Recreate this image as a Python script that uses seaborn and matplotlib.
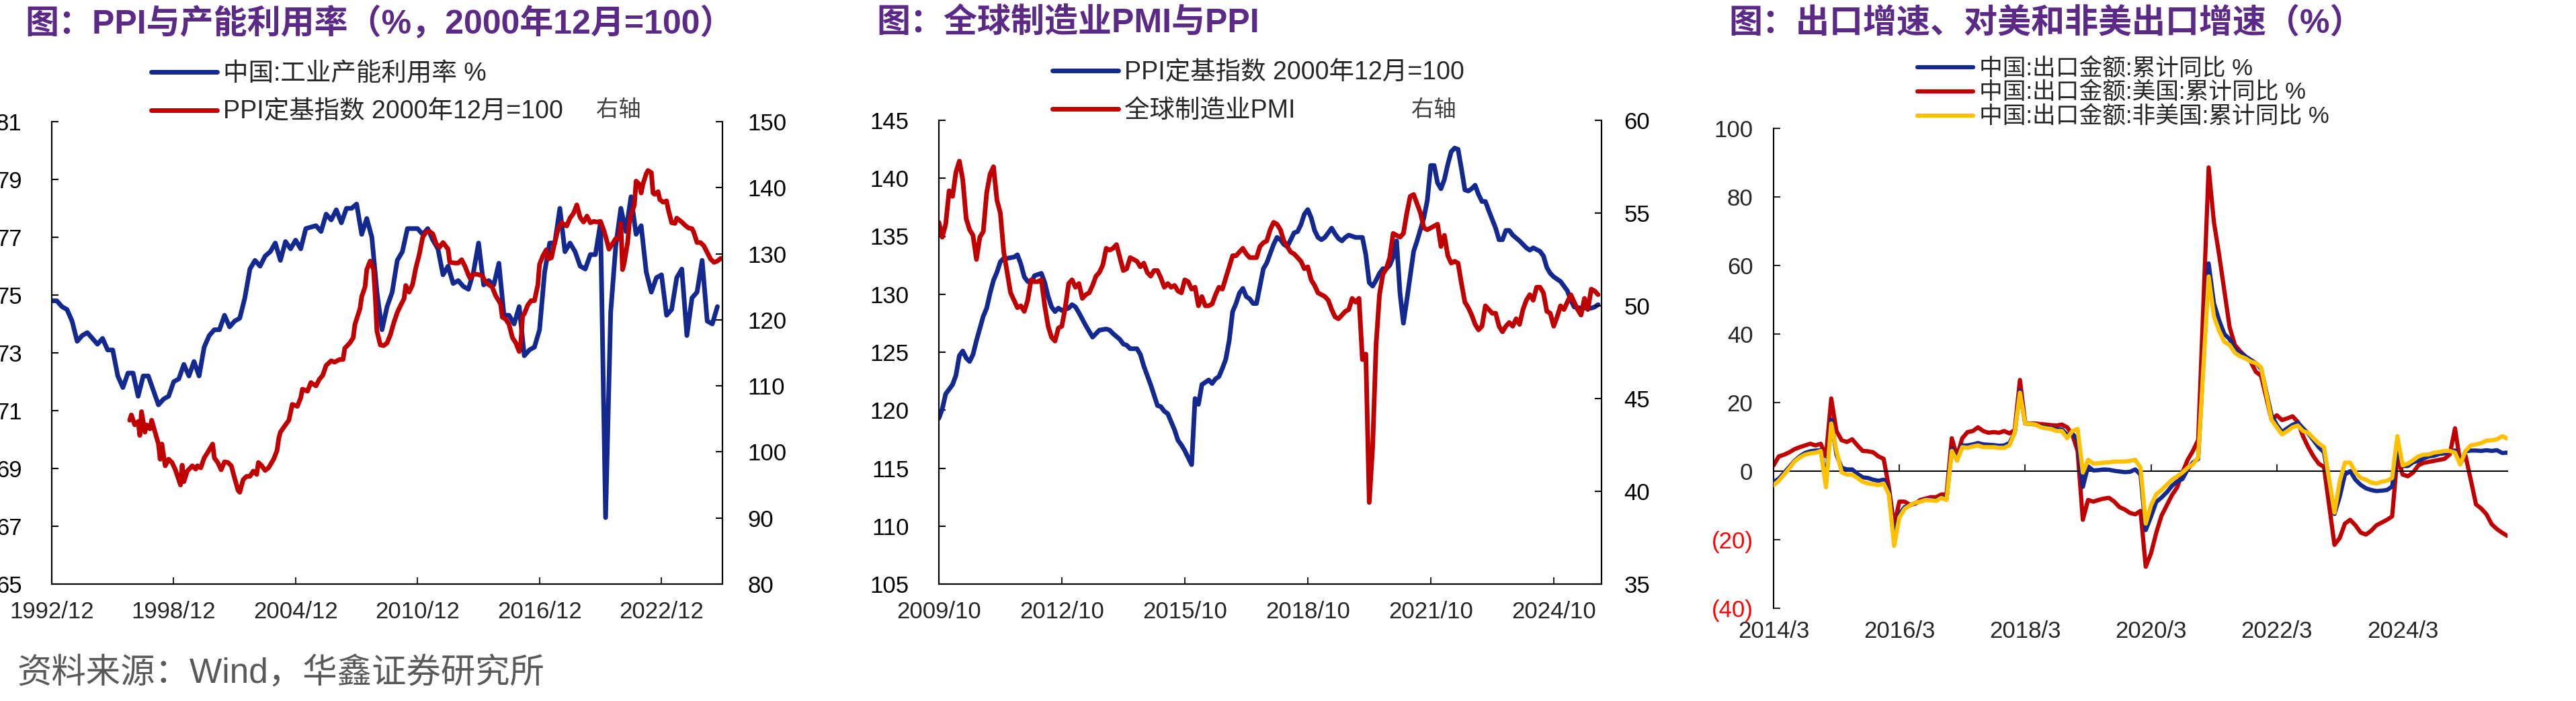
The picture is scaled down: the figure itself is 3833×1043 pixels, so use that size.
import matplotlib
matplotlib.use('Agg')
import matplotlib.pyplot as plt
import seaborn as sns

W, H = 3833, 1043
BLUE = '#13298f'
RED = '#c00000'
YELLOW = '#ffc000'
PURPLE = '#5b2a86'

# ---------- panel 1: capacity utilisation (quarterly, from 1992/12) & PPI index (monthly offsets from 1992/12)
cap_util = [74.8, 74.8, 74.6, 74.5, 74.1, 73.4, 73.6, 73.7, 73.5, 73.3,
            73.5, 73.1, 73.1, 72.2, 71.8, 72.3, 72.3, 71.5, 72.2, 72.2,
            71.7, 71.2, 71.4, 71.5, 72.0, 72.1, 72.6, 72.2, 72.7, 72.2,
            73.2, 73.6, 73.8, 73.8, 74.3, 73.9, 74.1, 74.2, 74.9, 75.9,
            76.2, 76.0, 76.35, 76.5, 76.8, 76.2, 76.85, 76.6, 76.9, 76.6,
            77.3, 77.35, 77.4, 77.2, 77.8, 77.6, 77.95, 77.5, 78.0, 78.0,
            78.15, 77.1, 77.65, 77.0, 75.1, 73.8, 74.6, 75.1, 76.2, 76.5,
            77.3, 77.3, 77.3, 77.1, 77.3, 76.9, 76.6, 75.7, 76.0, 75.4,
            75.5, 75.3, 75.2, 75.8, 76.8, 75.35, 75.5, 75.35, 76.1, 74.3,
            74.3, 74.0, 74.6, 72.9, 73.1, 73.2, 73.8, 75.8, 76.8, 76.8,
            78.0, 76.5, 76.8, 76.5, 76.0, 75.9, 76.4, 76.4, 77.5, 67.3,
            74.4, 76.7, 78.0, 77.2, 78.4, 77.1, 77.4, 75.8, 75.1, 75.6,
            75.7, 74.3, 74.5, 75.6, 75.9, 73.6, 74.9, 75.1, 76.2, 74.1,
            74.0, 74.6]
cap_month = [3 * q for q in range(len(cap_util))]

ppi1_month = [46, 47, 49, 51, 52, 53, 55, 56, 58, 59, 61, 63, 64, 65, 67, 69, 71, 73, 75, 76,
              77, 78, 80, 83, 85, 86, 88, 90, 92, 95, 96, 98, 100, 102, 104, 106, 108, 110, 111, 113,
              115, 117, 119, 121, 122, 124, 126, 128, 131, 133, 134, 135, 138, 140, 142, 145, 147, 148, 151, 153,
              156, 158, 160, 162, 165, 167, 170, 172, 173, 176, 178, 179, 181, 182, 183, 185, 186, 188, 190, 191,
              192, 194, 196, 198, 200, 202, 204, 206, 208, 209, 211, 213, 215, 217, 219, 221, 223, 225, 227, 229,
              231, 234, 235, 238, 240, 242, 244, 246, 247, 249, 251, 254, 256, 258, 260, 262, 265, 266, 268, 270,
              272, 274, 276, 277, 278, 279, 281, 283, 285, 287, 288, 290, 292, 293, 295, 297, 299, 301, 304, 306,
              308, 310, 312, 314, 316, 318, 320, 322, 324, 326, 328, 329, 331, 333, 335, 336, 337, 338, 340, 341,
              342, 344, 345, 347, 348, 349, 351, 352, 354, 355, 356, 358, 359, 361, 363, 364, 366, 368, 369, 372,
              374, 376, 378, 379, 381, 383, 385, 387, 389, 391, 393, 395]
ppi1_value = [104.8, 105.6, 104.1, 104.6, 102.5, 106.1, 103.0, 104.1, 103.5, 104.8,
              103.0, 101.2, 98.9, 101.2, 97.9, 98.9, 98.4, 97.3, 95.8, 95.0,
              98.0, 95.5, 97.1, 97.9, 97.4, 97.9, 97.6, 99.1, 99.9, 101.2,
              99.1, 98.4, 97.3, 98.5, 98.4, 97.9, 96.0, 94.2, 93.9, 95.8,
              96.3, 96.3, 97.1, 96.6, 98.4, 97.9, 97.2, 97.6, 98.9, 100.2,
              102.0, 103.0, 104.1, 104.8, 107.2, 106.9, 108.2, 109.5, 109.2, 110.5,
              110.0, 111.0, 111.6, 113.1, 113.8, 113.6, 114.0, 114.0, 115.7, 116.5,
              117.3, 119.3, 120.9, 121.7, 123.5, 125.0, 127.6, 128.9, 127.6, 123.5,
              118.3, 116.2, 116.1, 116.5, 117.8, 119.6, 121.1, 122.2, 123.2, 125.2,
              124.2, 125.3, 127.9, 129.9, 132.5, 133.3, 133.4, 133.0, 131.5, 131.0,
              131.7, 130.7, 128.7, 128.6, 128.6, 129.1, 128.1, 126.8, 126.3, 126.9,
              126.9, 126.7, 125.8, 125.3, 125.0, 123.7, 122.4, 120.4, 120.1, 119.3,
              117.3, 116.5, 115.2, 116.7, 120.6, 120.9, 122.2, 122.9, 122.9, 125.3,
              128.4, 129.7, 130.6, 129.2, 129.4, 131.7, 133.8, 134.7, 134.2, 135.4,
              136.1, 137.4, 135.5, 134.8, 135.7, 134.7, 134.9, 134.8, 134.9, 133.5,
              131.7, 130.7, 131.5, 132.3, 132.3, 134.6, 127.6, 128.6, 131.7, 134.6,
              135.9, 137.4, 141.0, 140.5, 139.2, 140.5, 142.1, 142.6, 142.3, 139.2,
              139.0, 139.4, 138.2, 137.8, 138.0, 136.7, 134.7, 134.6, 135.4, 134.8,
              134.3, 133.9, 133.8, 133.3, 131.7, 131.7, 131.2, 130.2, 129.2, 128.7,
              128.9, 129.3]
p1_ticks = [0, 72, 144, 216, 288, 360]
p1_labels = ['1992/12', '1998/12', '2004/12', '2010/12', '2016/12', '2022/12']

# ---------- panel 2: PPI index & global manufacturing PMI (monthly offsets from 2009/10)
ppi2_month = [0, 1, 2, 4, 5, 6, 7, 8, 9, 10, 11, 13, 14, 15, 16, 17, 18, 19, 20, 22,
              23, 24, 25, 26, 27, 28, 30, 31, 32, 33, 34, 35, 36, 38, 39, 40, 41, 43, 44, 45,
              46, 47, 49, 50, 51, 53, 54, 55, 56, 58, 59, 60, 61, 62, 63, 64, 65, 66, 67, 68,
              69, 70, 71, 72, 73, 74, 75, 76, 77, 79, 80, 81, 82, 83, 84, 85, 86, 87, 88, 89,
              90, 91, 92, 93, 94, 95, 96, 97, 98, 99, 100, 101, 102, 103, 104, 105, 106, 107, 108, 109,
              110, 111, 112, 113, 114, 115, 116, 117, 118, 119, 120, 121, 122, 124, 125, 126, 127, 128, 129, 130,
              131, 132, 133, 134, 135, 136, 137, 138, 139, 140, 141, 142, 143, 144, 145, 146, 147, 148, 149, 150,
              151, 152, 153, 154, 155, 156, 157, 158, 159, 160, 161, 163, 164, 165, 166, 167, 168, 170, 171, 172,
              173, 174, 176, 177, 178, 179, 180, 181, 182, 183, 184, 185, 186, 188, 189, 190, 191, 192, 193]
ppi2_value = [119.3, 120.1, 121.4, 122.2, 123.0, 124.7, 125.1, 124.5, 124.2, 124.8,
              126.0, 128.1, 128.8, 130.1, 131.2, 131.9, 132.8, 133.1, 133.1, 133.2,
              133.4, 132.6, 131.5, 131.1, 131.0, 131.6, 131.8, 131.0, 129.8, 128.9,
              128.5, 128.8, 128.6, 128.8, 129.1, 128.9, 128.4, 127.3, 126.8, 126.3,
              126.6, 126.9, 127.0, 126.9, 126.6, 126.1, 125.7, 125.6, 125.3, 125.3,
              124.8, 123.8, 123.0, 122.2, 121.3, 120.4, 120.3, 119.9, 119.7, 119.0,
              118.3, 117.4, 117.0, 116.5, 115.9, 115.3, 121.0, 120.5, 122.2, 122.6,
              122.3, 122.7, 122.9, 123.6, 124.4, 126.0, 128.5, 129.2, 130.1, 130.5,
              129.8, 129.6, 129.2, 129.2, 130.7, 132.2, 132.7, 133.5, 134.3, 134.9,
              134.7, 134.3, 134.1, 134.7, 135.3, 135.4, 136.0, 136.9, 137.3, 136.6,
              135.5, 134.9, 134.7, 134.9, 135.3, 135.7, 135.2, 134.8, 134.6, 134.9,
              135.1, 135.0, 134.9, 134.9, 133.4, 131.0, 130.7, 131.2, 131.8, 132.2,
              132.2, 132.5, 133.2, 134.6, 130.1, 127.5, 129.5, 131.6, 133.7, 134.6,
              135.6, 136.6, 138.1, 141.1, 141.1, 139.6, 139.1, 139.9, 141.2, 142.3,
              142.6, 142.5, 140.8, 139.0, 138.9, 139.1, 139.4, 138.6, 138.0, 138.0,
              137.2, 135.7, 134.7, 134.7, 135.5, 135.5, 135.1, 134.6, 134.3, 134.0,
              133.8, 134.0, 133.7, 133.3, 132.3, 131.8, 131.5, 131.3, 131.1, 130.7,
              130.3, 129.5, 128.9, 128.8, 128.8, 128.8, 128.8, 128.9, 129.1]
pmi_value = [54.5, 53.7, 54.4, 56.2, 55.9, 57.2, 57.8, 56.8, 54.7, 54.1,
             53.8, 52.5, 53.7, 54.0, 56.1, 57.1, 57.5, 55.7, 55.0, 52.9,
             51.8, 50.7, 50.3, 49.9, 50.0, 49.7, 50.3, 51.4, 51.3, 51.3,
             51.4, 50.0, 48.9, 48.3, 48.1, 48.8, 48.9, 49.9, 51.2, 51.4,
             51.0, 51.2, 50.4, 50.6, 50.7, 51.1, 51.6, 51.8, 52.2, 53.1,
             53.0, 53.1, 53.3, 52.6, 51.9, 52.0, 52.6, 52.5, 52.4, 52.1,
             52.3, 51.8, 51.6, 51.9, 51.9, 51.5, 51.0, 51.2, 51.0, 51.1,
             50.8, 50.7, 51.4, 51.3, 50.9, 51.0, 50.0, 50.5, 50.0, 50.0,
             50.1, 50.6, 51.0, 50.9, 51.5, 52.1, 52.7, 52.7, 52.9, 53.1,
             52.8, 52.6, 52.6, 52.6, 53.2, 53.4, 53.5, 54.1, 54.5, 54.4,
             54.1, 53.5, 53.2, 52.9, 52.8, 52.6, 52.4, 52.0, 52.1, 51.4,
             51.1, 50.7, 50.6, 50.5, 50.3, 49.8, 49.4, 49.3, 49.5, 49.7,
             49.8, 50.4, 50.2, 50.4, 47.1, 47.4, 39.4, 42.4, 47.9, 50.6,
             51.7, 52.0, 52.6, 53.9, 53.8, 53.7, 53.9, 55.0, 55.9, 56.0,
             55.5, 55.0, 54.2, 54.1, 54.2, 54.3, 54.4, 53.2, 53.8, 52.7,
             52.3, 52.4, 52.3, 51.2, 50.2, 49.9, 49.5, 49.0, 48.7, 48.9,
             50.0, 49.8, 49.6, 49.6, 48.9, 48.6, 48.9, 49.1, 48.9, 49.3,
             49.0, 49.8, 50.3, 50.6, 50.3, 51.0, 51.0, 50.7, 49.7, 49.6,
             48.9, 49.4, 50.0, 49.8, 50.2, 50.6, 50.2, 49.8, 49.5, 50.4,
             49.8, 50.9, 50.8, 50.6]
pmi_month = list(range(len(pmi_value)))
p2_ticks = [0, 36, 72, 108, 144, 180]
p2_labels = ['2009/10', '2012/10', '2015/10', '2018/10', '2021/10', '2024/10']

# ---------- panel 3: cumulative export growth (monthly offsets from 2014/3, Jan points missing in 2021-2023)
exp_month = list(range(0, 82)) + list(range(83, 94)) + list(range(95, 106)) + list(range(107, 141))
exp_total = [-3.2, -2.2, -0.5, 1.2, 3.0, 4.3, 5.3, 5.8, 6.0, 6.1,
             -3.3, 15.0, 4.8, 1.0, 0.5, 0.5, -0.8, -1.8, -2.0, -2.5,
             -2.8, -2.5, -6.0, -20.0, -12.5, -10.5, -10.0, -9.3, -8.8, -8.3,
             -8.3, -8.5, -7.6, -8.0, 6.5, 3.2, 7.5, 7.5, 7.8, 8.2,
             7.8, 7.7, 7.6, 7.4, 7.5, 8.2, 11.2, 23.5, 13.9, 13.8,
             13.6, 13.0, 12.8, 12.5, 12.2, 12.2, 10.6, 11.0, 9.1, -4.6,
             1.4, 0.2, 0.3, 0.5, 0.4, 0.1, -0.1, -0.3, -0.2, 0.5,
             -1.0, -17.2, -13.3, -9.0, -7.7, -6.2, -4.3, -3.0, -2.3, 0.5,
             2.5, 3.6,
             60.6, 49.0, 44.0, 40.0, 38.5, 35.5, 34.5, 33.5, 32.5, 31.5, 29.9,
             16.3, 13.5, 11.4, 12.5, 13.5, 14.2, 12.5, 11.0, 9.0, 7.0, 5.5,
             -12.5, -7.5, -1.0, 0.0, -2.5, -4.0, -5.0, -5.5, -5.8, -5.7,
             -5.5, -4.5, 7.1, 1.5, 1.5, 2.6, 3.0, 3.7, 4.3, 4.5,
             5.0, 5.2, 5.9, 6.0, 2.3, 5.8, 6.0, 6.0, 5.9, 6.1,
             5.9, 6.1, 5.3, 5.4]
exp_us = [1.7, 4.3, 4.8, 5.5, 6.4, 7.0, 7.5, 8.0, 7.5, 8.0,
          4.3, 21.2, 11.7, 9.0, 8.5, 9.3, 7.5, 5.9, 5.8, 5.5,
          4.3, 3.6, -4.7, -15.8, -8.9, -8.9, -9.8, -9.5, -8.4, -8.0,
          -7.6, -7.6, -6.8, -6.8, 9.6, 4.3, 9.6, 11.4, 11.7, 12.8,
          11.7, 11.2, 11.4, 11.2, 11.7, 11.0, 12.0, 26.6, 14.0, 13.9,
          13.9, 13.7, 13.6, 13.4, 13.3, 13.6, 12.8, 10.7, 5.9, -14.2,
          -8.4, -8.9, -8.4, -8.0, -7.8, -8.9, -10.5, -11.2, -12.2, -12.6,
          -11.6, -27.9, -24.0, -18.0, -13.0, -10.0, -7.0, -4.7, -0.4, 3.3,
          5.9, 9.1,
          88.6, 72.7, 63.1, 52.5, 42.0, 36.8, 35.0, 33.5, 32.0, 29.0, 27.8,
          15.0, 16.3, 14.9, 15.4, 16.0, 14.4, 10.2, 7.0, 4.3, 2.2, 1.2,
          -21.5, -19.5, -15.3, -14.2, -15.8, -17.9, -18.5, -17.4, -15.8, -15.0,
          -14.2, -13.2, 4.3, -1.0, -1.5, -0.4, 1.7, 2.4, 2.7, 3.0,
          3.3, 3.6, 4.9, 12.5, 2.3, 4.5, -2.5, -9.7, -10.9, -12.6,
          -15.5, -16.9, -18.0, -18.9]
exp_non_us = [-4.1, -2.8, -1.0, 0.8, 2.8, 4.0, 4.8, 5.2, 5.4, 5.9,
              -4.7, 13.9, 5.9, -0.4, -1.0, -1.0, -2.0, -3.1, -3.6, -3.8,
              -4.1, -3.6, -6.8, -21.8, -13.5, -11.0, -10.0, -9.2, -8.9, -8.4,
              -8.5, -8.7, -7.8, -8.4, 5.9, 3.0, 7.0, 6.8, 7.2, 7.5,
              7.0, 7.0, 7.0, 6.8, 6.8, 7.5, 11.2, 22.9, 13.9, 13.8,
              13.6, 12.8, 12.5, 12.3, 11.7, 11.7, 9.6, 11.7, 12.3, -0.4,
              3.3, 2.2, 2.3, 2.5, 2.6, 2.8, 2.8, 2.8, 3.0, 3.3,
              1.0, -15.3, -10.0, -6.8, -5.5, -4.0, -2.5, -1.5, -0.4, 1.0,
              2.0, 4.0,
              56.8, 45.2, 40.9, 37.7, 36.8, 34.5, 33.5, 32.9, 32.0, 31.5, 30.3,
              14.9, 12.8, 10.7, 11.7, 12.8, 13.3, 11.7, 11.2, 9.6, 8.1, 7.0,
              -12.1, -3.0, 2.5, 2.5, -0.3, -2.0, -2.5, -3.3, -3.6, -3.1,
              -2.8, -2.0, 10.2, 1.7, 2.2, 3.2, 4.3, 4.8, 4.9, 5.4,
              5.6, 5.9, 5.9, 5.4, 1.9, 5.9, 7.5, 7.8, 8.2, 8.9,
              9.0, 9.3, 10.2, 9.5]
p3_ticks = [0, 24, 48, 72, 96, 120]
p3_labels = ['2014/3', '2016/3', '2018/3', '2020/3', '2022/3', '2024/3']
p3_yticks = [-40, -20, 0, 20, 40, 60, 80, 100]

sns.set_theme(style='ticks')
plt.rcParams['font.family'] = ['Liberation Sans', 'Noto Sans CJK SC', 'DejaVu Sans']
plt.rcParams['axes.unicode_minus'] = False


def box(l, r, t, b):
    return [l / W, 1 - b / H, (r - l) / W, (b - t) / H]


def fxy(x, y):
    return (x / W, 1 - y / H)


def style_axis(ax, side, pad):
    ax.tick_params(axis='y', direction='in', length=7, width=1.5, labelsize=25, pad=pad,
                   left=(side == 'left'), right=(side == 'right'),
                   labelleft=(side == 'left'), labelright=(side == 'right'), colors='black')
    for s in ax.spines.values():
        s.set_linewidth(1.5)
        s.set_color('black')
    ax.spines['top'].set_visible(False)


fig = plt.figure(figsize=(W / 100, H / 100), dpi=100)

# ---- panel 1
ax1 = fig.add_axes(box(77, 1075, 181, 869))
sns.lineplot(x=cap_month, y=cap_util, ax=ax1, color=BLUE, lw=5, legend=False)
ax1r = ax1.twinx()
sns.lineplot(x=ppi1_month, y=ppi1_value, ax=ax1r, color=RED, lw=5, legend=False)
ax1.set_xlim(0, 396)
ax1.set_ylim(65, 81)
ax1.set_yticks(range(65, 82, 2))
ax1r.set_ylim(80, 150)
ax1r.set_yticks(range(80, 151, 10))
ax1.set_xticks(p1_ticks, p1_labels)
ax1.tick_params(axis='x', direction='in', length=7, width=1.5, labelsize=25, pad=18)
style_axis(ax1, 'left', 32)
style_axis(ax1r, 'right', 27)
for a in (ax1, ax1r):
    a.set_xlabel('')
    a.set_ylabel('')
fig.legend(handles=[ax1.lines[0], ax1r.lines[0]],
           labels=['中国:工业产能利用率 %', 'PPI定基指数 2000年12月=100'],
           loc='upper left', bbox_to_anchor=fxy(225, 92), frameon=False, fontsize=27,
           handlelength=2.6, handletextpad=0.25, labelspacing=0.55, borderpad=0, borderaxespad=0)
fig.text(*fxy(887, 164), '右轴', fontsize=24, color='#404040', va='center', ha='left')
fig.text(*fxy(37, 35), '图：PPI与产能利用率（%，2000年12月=100）', fontsize=36,
         fontweight='bold', color=PURPLE, va='center', ha='left')

# ---- panel 2
ax2 = fig.add_axes(box(1397, 2383, 179, 869))
sns.lineplot(x=ppi2_month, y=ppi2_value, ax=ax2, color=BLUE, lw=5, legend=False)
ax2r = ax2.twinx()
sns.lineplot(x=pmi_month, y=pmi_value, ax=ax2r, color=RED, lw=5, legend=False)
ax2.set_xlim(0, 194)
ax2.set_ylim(105, 145)
ax2.set_yticks(range(105, 146, 5))
ax2r.set_ylim(35, 60)
ax2r.set_yticks(range(35, 61, 5))
ax2.set_xticks(p2_ticks, p2_labels)
ax2.tick_params(axis='x', direction='in', length=7, width=1.5, labelsize=25, pad=18)
style_axis(ax2, 'left', 32)
style_axis(ax2r, 'right', 24)
for a in (ax2, ax2r):
    a.set_xlabel('')
    a.set_ylabel('')
fig.legend(handles=[ax2.lines[0], ax2r.lines[0]],
           labels=['PPI定基指数 2000年12月=100', '全球制造业PMI'],
           loc='upper left', bbox_to_anchor=fxy(1566, 90), frameon=False, fontsize=27,
           handlelength=2.6, handletextpad=0.25, labelspacing=0.55, borderpad=0, borderaxespad=0)
fig.text(*fxy(2100, 164), '右轴', fontsize=24, color='#404040', va='center', ha='left')
fig.text(*fxy(1304, 35), '图：全球制造业PMI与PPI', fontsize=36,
         fontweight='bold', color=PURPLE, va='center', ha='left')

# ---- panel 3
ax3 = fig.add_axes(box(2639, 3731, 191, 905))
sns.lineplot(x=exp_month, y=exp_us, ax=ax3, color=RED, lw=4.5, legend=False, zorder=2)
sns.lineplot(x=exp_month, y=exp_total, ax=ax3, color=BLUE, lw=4.5, legend=False, zorder=3)
sns.lineplot(x=exp_month, y=exp_non_us, ax=ax3, color=YELLOW, lw=4.5, legend=False, zorder=4)
ax3.set_xlim(0, 140)
ax3.set_ylim(-40, 100)
ax3.set_yticks(p3_yticks, ['(%d)' % -v if v < 0 else '%d' % v for v in p3_yticks])
for v, lab in zip(p3_yticks, ax3.get_yticklabels()):
    if v < 0:
        lab.set_color('#ff0000')
ax3.set_xticks(p3_ticks, p3_labels)
ax3.set_xlabel('')
ax3.set_ylabel('')
for s in ax3.spines.values():
    s.set_linewidth(1.5)
    s.set_color('black')
ax3.spines['top'].set_visible(False)
ax3.spines['right'].set_visible(False)
ax3.spines['bottom'].set_position(('data', 0))
ax3.tick_params(axis='y', direction='in', length=7, width=1.5, labelsize=25, pad=22)
ax3.tick_params(axis='x', direction='in', length=7, width=1.5, labelsize=25, pad=160)
l_us, l_total, l_non = ax3.lines[0], ax3.lines[1], ax3.lines[2]
fig.legend(handles=[l_total, l_us, l_non],
           labels=['中国:出口金额:累计同比 %', '中国:出口金额:美国:累计同比 %',
                   '中国:出口金额:非美国:累计同比 %'],
           loc='upper left', bbox_to_anchor=fxy(2853, 86), frameon=False, fontsize=25,
           handlelength=2.4, handletextpad=0.25, labelspacing=0.08, borderpad=0, borderaxespad=0)
fig.text(*fxy(2572, 35), '图：出口增速、对美和非美出口增速（%）', fontsize=36,
         fontweight='bold', color=PURPLE, va='center', ha='left')

fig.text(*fxy(25, 1003), '资料来源：Wind，华鑫证券研究所', fontsize=37, color='#595959',
         va='center', ha='left')

fig.savefig('out.png', dpi=100)
